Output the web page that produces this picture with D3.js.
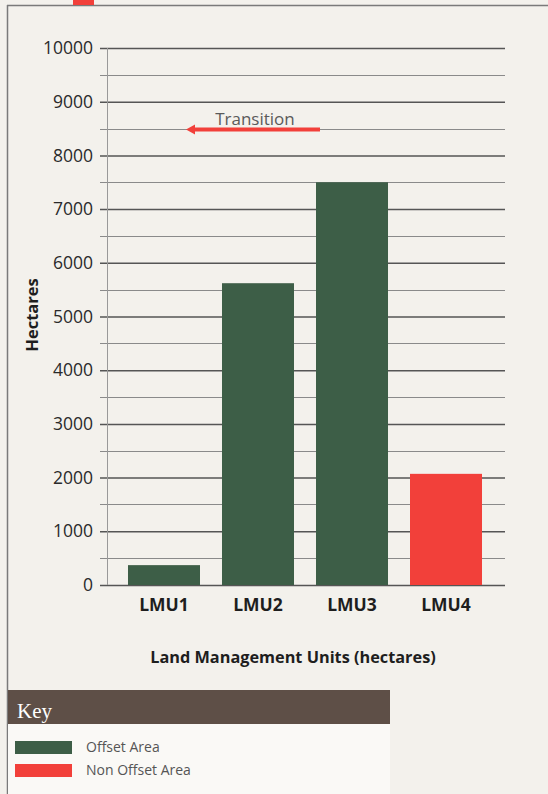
<!DOCTYPE html>
<html>
<head>
<meta charset="utf-8">
<script src="https://cdn.jsdelivr.net/npm/d3@7"></script>
<style>
  body { margin: 0; background: #f3f1ec; }
  svg { display: block; font-family: "Open Sans", "Noto Sans", sans-serif; }
</style>
</head>
<body>
<div id="chart"></div>
<script>
const units = ["LMU1", "LMU2", "LMU3", "LMU4"];
const hectares = [370, 5620, 7500, 2070];
const isOffset = [true, true, true, false];
const yTicks = [0, 1000, 2000, 3000, 4000, 5000, 6000, 7000, 8000, 9000, 10000];
const minorTicks = [500, 1500, 2500, 3500, 4500, 5500, 6500, 7500, 8500, 9500];
const transitionSpan = ["LMU1", "LMU2"];
const keyLabels = ["Offset Area", "Non Offset Area"];

const green = "#3d5e47", red = "#f2403a";

const svg = d3.select("#chart").append("svg")
    .attr("width", 548)
    .attr("height", 794);

// frame
svg.append("rect").attr("x", 0).attr("y", 0).attr("width", 548).attr("height", 794).attr("fill", "#f3f1ec");
svg.append("line").attr("x1", 7).attr("x2", 548).attr("y1", 5.5).attr("y2", 5.5)
    .attr("stroke", "#7a7a7a").attr("stroke-width", 1.5);
svg.append("line").attr("x1", 7.5).attr("x2", 7.5).attr("y1", 5).attr("y2", 794)
    .attr("stroke", "#7a7a7a").attr("stroke-width", 1.5);
svg.append("rect").attr("x", 73).attr("y", 0).attr("width", 21).attr("height", 5).attr("fill", red);

const x = d3.scaleBand().domain(units).range([106, 504]).paddingInner(0.234).paddingOuter(0.234);
const y = d3.scaleLinear().domain([0, 10000]).range([585, 48]);

// minor gridlines
svg.append("g").selectAll("line").data(minorTicks).join("line")
    .attr("x1", 100).attr("x2", 505)
    .attr("y1", d => Math.round(y(d)) + 0.5).attr("y2", d => Math.round(y(d)) + 0.5)
    .attr("stroke", "#8a8a8a").attr("stroke-width", 1);

// major axis with ticks across
const yAxis = svg.append("g")
    .attr("transform", "translate(505,0)")
    .call(d3.axisLeft(y).tickValues(yTicks).tickSize(405).tickPadding(7).tickFormat(d3.format("d")));
yAxis.select(".domain").remove();
yAxis.selectAll(".tick line").attr("stroke", "#555").attr("stroke-width", 1.5);
yAxis.selectAll(".tick text").attr("font-size", 17.5).attr("fill", "#2a2a2a")
    .attr("font-family", "'Open Sans', sans-serif");

// vertical axis line
svg.append("line").attr("x1", 107.5).attr("x2", 107.5).attr("y1", 48).attr("y2", 585)
    .attr("stroke", "#999").attr("stroke-width", 1);

// bars
svg.append("g").selectAll("rect").data(units).join("rect")
    .attr("x", d => x(d))
    .attr("width", x.bandwidth())
    .attr("y", (d, i) => y(hectares[i]))
    .attr("height", (d, i) => y(0) - y(hectares[i]))
    .attr("fill", (d, i) => isOffset[i] ? green : red);

// x labels
svg.append("g").selectAll("text").data(units).join("text")
    .attr("x", d => x(d) + x.bandwidth() / 2)
    .attr("y", 611)
    .attr("text-anchor", "middle")
    .attr("font-size", 17.5).attr("font-weight", "bold").attr("fill", "#1e1e1e")
    .text(d => d);

// axis titles
svg.append("text")
    .attr("transform", "translate(38,315) rotate(-90)")
    .attr("text-anchor", "middle")
    .attr("font-size", 16.5).attr("font-weight", "bold").attr("fill", "#1e1e1e")
    .text("Hectares");
svg.append("text")
    .attr("x", 293).attr("y", 663)
    .attr("text-anchor", "middle")
    .attr("font-size", 16.3).attr("font-weight", "bold").attr("fill", "#1e1e1e")
    .text("Land Management Units (hectares)");

// transition arrow
const tx0 = x(transitionSpan[0]) + 58, tx1 = x(transitionSpan[1]) + 98;
const ty = y(8500) + 1;
svg.append("line").attr("x1", tx0 + 6).attr("x2", tx1).attr("y1", ty).attr("y2", ty)
    .attr("stroke", red).attr("stroke-width", 4);
svg.append("path")
    .attr("d", `M${tx0},${ty} L${tx0 + 9},${ty - 5} L${tx0 + 9},${ty + 5} Z`)
    .attr("fill", red);
svg.append("text")
    .attr("x", (tx0 + tx1) / 2 + 2).attr("y", ty - 5)
    .attr("text-anchor", "middle")
    .attr("font-size", 17).attr("fill", "#5a5a5a")
    .text("Transition");

// key
svg.append("rect").attr("x", 8).attr("y", 724).attr("width", 382).attr("height", 70).attr("fill", "#faf9f6");
svg.append("rect").attr("x", 8).attr("y", 690).attr("width", 382).attr("height", 34).attr("fill", "#5e4f47");
svg.append("text").attr("x", 17).attr("y", 718)
    .attr("font-family", "'Liberation Serif', 'DejaVu Serif', serif")
    .attr("font-size", 21).attr("fill", "#fff")
    .text("Key");

const keyRows = svg.append("g").selectAll("g").data(keyLabels).join("g")
    .attr("transform", (d, i) => `translate(0,${741 + i * 23})`);
keyRows.append("rect").attr("x", 15).attr("y", 0).attr("width", 57).attr("height", 13)
    .attr("fill", (d, i) => i === 0 ? green : red);
keyRows.append("text").attr("x", 86).attr("y", 11)
    .attr("font-size", 14).attr("fill", "#555")
    .text(d => d);
</script>
</body>
</html>
